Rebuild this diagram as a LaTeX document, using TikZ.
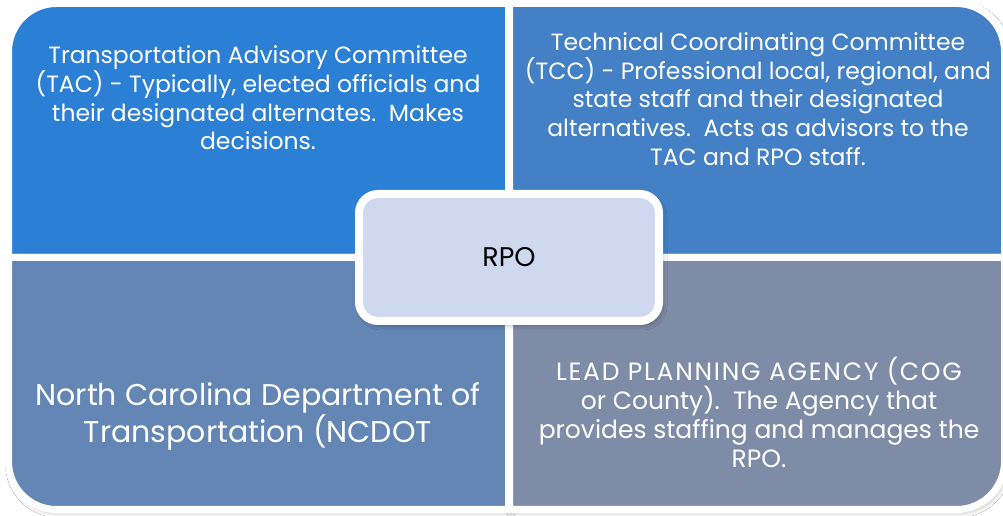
\documentclass[tikz,border=0pt]{standalone}
\usepackage{fontspec}
\setmainfont{Poppins}
\usetikzlibrary{shadows.blur}

\definecolor{tacblue}{HTML}{2B7FD5}
\definecolor{tccblue}{HTML}{4480C5}
\definecolor{dotblue}{HTML}{6386B4}
\definecolor{lpagrey}{HTML}{7F8CA8}
\definecolor{rpofill}{HTML}{CED8EE}

\tikzset{
  quad/.style={draw=white, line width=7pt, line join=miter,
    blur shadow={shadow xshift=2pt, shadow yshift=-3pt,
      shadow blur radius=5pt, shadow opacity=30}},
  quadtext/.style={text=white, align=center, inner sep=0pt,
    font=\fontsize{23.5}{28.6}\selectfont},
  hubbox/.style={draw=white, line width=8pt, fill=rpofill,
    rounded corners=19pt, minimum width=300pt, minimum height=127pt,
    blur shadow={shadow xshift=3pt, shadow yshift=-4pt,
      shadow blur radius=5pt, shadow opacity=35},
    font=\fontsize{27}{32}\selectfont, text=black}
}

\begin{document}
\begin{tikzpicture}[x=1pt,y=1pt]
  \useasboundingbox (0,0) rectangle (1003,516);
  \fill[white] (0,0) rectangle (1003,516);

  % four quadrants, each with one rounded outer corner
  \path[quad, fill=tacblue]
    (508.5,258.5) -- (8.5,258.5) -- (8.5,464.5)
    arc[start angle=180, end angle=90, radius=48] -- (508.5,512.5) -- cycle;
  \path[quad, fill=tccblue]
    (509.5,258.5) -- (509.5,512.5) -- (956.5,512.5)
    arc[start angle=90, end angle=0, radius=48] -- (1004.5,258.5) -- cycle;
  \path[quad, fill=dotblue]
    (8.5,258.5) -- (508.5,258.5) -- (508.5,6.5) -- (56.5,6.5)
    arc[start angle=270, end angle=180, radius=48] -- cycle;
  \path[quad, fill=lpagrey]
    (509.5,258.5) -- (1004.5,258.5) -- (1004.5,54.5)
    arc[start angle=0, end angle=-90, radius=48] -- (509.5,6.5) -- cycle;

  % quadrant texts
  \node[quadtext] (tac) at (258,418)
    {Transportation Advisory Committee\\
     (TAC) - Typically, elected officials and\\
     their designated alternates.\ \ Makes\\
     decisions.};
  \node[quadtext] (tcc) at (758,417)
    {Technical Coordinating Committee\\
     (TCC) - Professional local, regional, and\\
     state staff and their designated\\
     alternatives.\ \ Acts as advisors to the\\
     TAC and RPO staff.};
  \node[quadtext, font=\fontsize{30}{37}\selectfont] (dot) at (258,100)
    {North Carolina Department of\\
     Transportation (NCDOT};
  \node[quadtext, font=\fontsize{25}{29}\selectfont] (lpa) at (759,104)
    {{\addfontfeature{LetterSpace=7}LEAD PLANNING AGENCY (COG}\\
     or County).\ \ The Agency that\\
     provides staffing and manages the\\
     RPO.};

  % central hub
  \node[hubbox] (rpo) at (509,258.5) {RPO};
\end{tikzpicture}
\end{document}
